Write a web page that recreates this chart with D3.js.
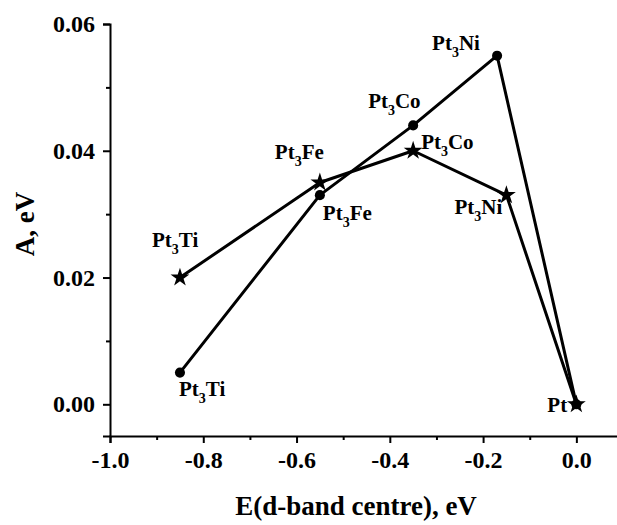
<!DOCTYPE html>
<html>
<head>
<meta charset="utf-8">
<script src="https://cdn.jsdelivr.net/npm/d3@7"></script>
<style>
    body { margin: 0; background: #fff; }
    text { font-family: "Liberation Serif", "Times New Roman", serif; font-weight: bold; fill: #000; }
</style>
</head>
<body>
<div id="chart"></div>
<script>
// Data
// ==================================================================
const energy_circle = [-0.85, -0.55, -0.35, -0.17, 0.0],
    a_circle = [0.005, 0.033, 0.044, 0.055, 0.0],
    names_circle = ["Pt3Ti", "Pt3Fe", "Pt3Co", "Pt3Ni", ""];

const energy_star = [-0.85, -0.55, -0.35, -0.15, 0.0],
    a_star = [0.020, 0.035, 0.040, 0.033, 0.0],
    names_star = ["Pt3Ti", "Pt3Fe", "Pt3Co", "Pt3Ni", "Pt"];

const x_ticks = [-1.0, -0.8, -0.6, -0.4, -0.2, 0.0],
    x_minor = [-0.9, -0.7, -0.5, -0.3, -0.1],
    y_ticks = [0.00, 0.02, 0.04, 0.06],
    y_minor = [0.01, 0.03, 0.05];

// label offsets (pixels from the marker), kept apart from the data
const off_circle = [[-1, 23], [3, 25], [-45, -17], [-65, -6], [0, 0]],
    off_star = [[-28, -31], [-45, -23], [8, -2], [-52, 19], [-29, 8]];

// Layout
// ==================================================================
const W = 617, H = 525;

let xScale = d3.scaleLinear().domain([-1.0, 0.1]).range([110, 623]);
let yScale = d3.scaleLinear().domain([-0.005, 0.06]).range([436, 24]);

let svg = d3.select("#chart")
    .append("svg")
        .attr("width", W)
        .attr("height", H);

// hyphen instead of the unicode minus, as in the original figure
function fmt(spec) {
    let f = d3.format(spec);
    return function(d) { return f(d).replace("\u2212", "-"); };
}

// Axes
// ==================================================================
function generate_axis() {
    svg.append("g")
        .attr("transform", "translate(0," + yScale.range()[0] + ")")
        .call(d3.axisBottom(xScale).tickValues(x_ticks).tickSize(7).tickPadding(8)
            .tickFormat(fmt(".1f")));

    svg.append("g")
        .attr("transform", "translate(0," + yScale.range()[0] + ")")
        .call(d3.axisBottom(xScale).tickValues(x_minor).tickSize(4).tickFormat(""))
        .select(".domain").remove();

    svg.append("g")
        .attr("transform", "translate(" + xScale(-1.0) + ",0)")
        .call(d3.axisLeft(yScale).tickValues(y_ticks).tickSize(7).tickPadding(8)
            .tickFormat(fmt(".2f")));

    svg.append("g")
        .attr("transform", "translate(" + xScale(-1.0) + ",0)")
        .call(d3.axisLeft(yScale).tickValues(y_minor).tickSize(4).tickFormat(""))
        .select(".domain").remove();

    svg.selectAll(".domain").attr("stroke", "#000").attr("stroke-width", 2);
    svg.selectAll(".tick line").attr("stroke", "#000").attr("stroke-width", 2);
    svg.selectAll(".tick text")
        .attr("font-size", "24px")
        .attr("font-family", "Liberation Serif, Times New Roman, serif")
        .attr("font-weight", "bold")
        .attr("fill", "#000");

    // axis titles
    svg.append("text")
        .attr("x", 356)
        .attr("y", 515)
        .attr("text-anchor", "middle")
        .attr("font-size", "27px")
        .text("E(d-band centre), eV");

    svg.append("text")
        .attr("transform", "translate(34,224) rotate(-90)")
        .attr("text-anchor", "middle")
        .attr("font-size", "27px")
        .text("A, eV");
}

// Series
// ==================================================================
function draw_label(x, y, name) {
    if (!name) return;
    let t = svg.append("text")
        .attr("x", x)
        .attr("y", y)
        .attr("font-size", "21px");
    if (name.startsWith("Pt3")) {
        t.append("tspan").text("Pt");
        t.append("tspan").attr("font-size", "14px").attr("dy", 7).text("3");
        t.append("tspan").attr("dy", -7).text(name.slice(3));
    } else {
        t.text(name);
    }
}

function draw_series(xs, ys, names, offs, symbol, size) {
    let pts = xs.map((x, i) => ({x: x, y: ys[i], name: names[i], off: offs[i]}));

    svg.append("path")
        .datum(pts)
        .attr("fill", "none")
        .attr("stroke", "#000")
        .attr("stroke-width", 3)
        .attr("stroke-linejoin", "round")
        .attr("d", d3.line()
            .x(function(d) { return xScale(d.x); })
            .y(function(d) { return yScale(d.y); }));

    svg.selectAll(null)
        .data(pts)
        .enter()
        .append("path")
            .attr("transform", function(d) { return "translate(" + xScale(d.x) + "," + yScale(d.y) + ")"; })
            .attr("d", d3.symbol().type(symbol).size(size))
            .attr("fill", "#000");

    pts.forEach(d => {
        draw_label(xScale(d.x) + d.off[0], yScale(d.y) + d.off[1], d.name);
    });
}

generate_axis();
draw_series(energy_circle, a_circle, names_circle, off_circle, d3.symbolCircle, 80);
draw_series(energy_star, a_star, names_star, off_star, d3.symbolStar, 110);
</script>
</body>
</html>
